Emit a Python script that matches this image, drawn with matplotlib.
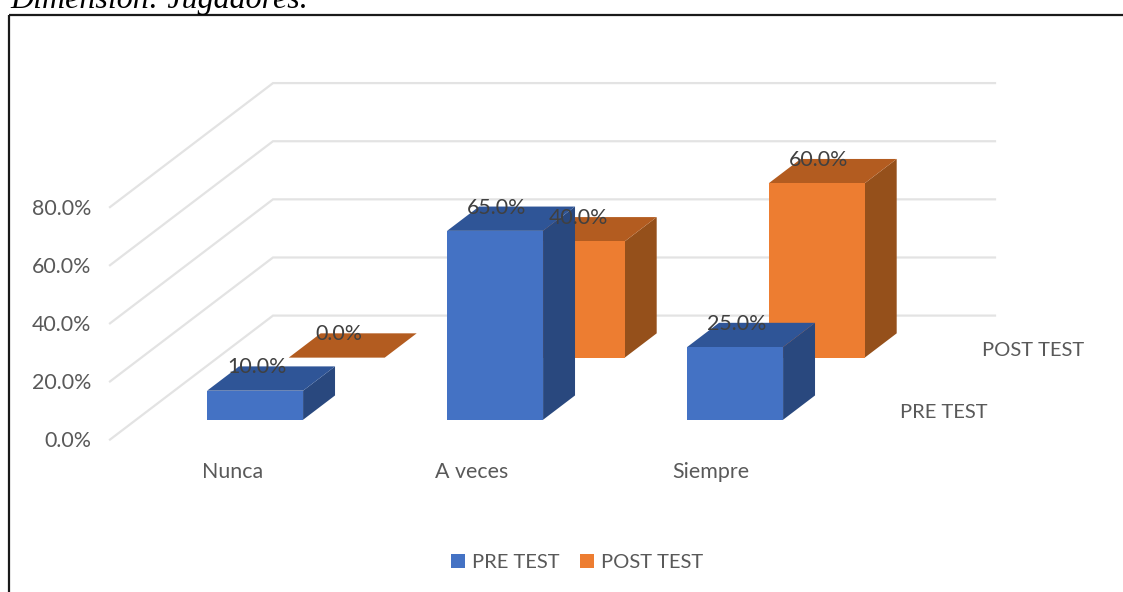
import matplotlib
matplotlib.use("Agg")
import matplotlib.pyplot as plt
from matplotlib.patches import Polygon, Patch, Rectangle

categories = ["Nunca", "A veces", "Siempre"]
pre_test = [10.0, 65.0, 25.0]
post_test = [0.0, 40.0, 60.0]
series_names = ["PRE TEST", "POST TEST"]
y_ticks = [0, 20, 40, 60, 80]
title = "Dimensión: Jugadores."

W, H = 1123, 592
# oblique projection, in pixels of the figure
X0, Y0 = 110.0, 439.6      # front-left floor corner
DX, DY = 163.0, -124.0     # floor depth vector
CAT_W = 240.0
PX_PER_UNIT = 232.5 / 80.0
BAR_W = 0.40               # share of a category
BAR_SHIFT = -1.0 / 240.0
ROW_D = 0.196              # share of the depth
ROW_START = [0.160, 0.661]
FLOOR_W = 722.0
NUM_SIZE = 15.4
CAT_SIZE = 15.4
SER_SIZE = 14.5


def proj(cat, depth, value):
    """cat in category units, depth 0..1, value in percent -> pixel."""
    return (X0 + cat * CAT_W + depth * DX,
            Y0 + depth * DY - value * PX_PER_UNIT)


fig = plt.figure(figsize=(W / 100, H / 100), dpi=100)
ax = fig.add_axes([0, 0, 1, 1])
ax.set_xlim(0, W)
ax.set_ylim(H, 0)
ax.axis("off")

# frame and clipped caption
ax.add_patch(Rectangle((8.5, 14.5), W + 20, H + 20, fill=False, ec="#1a1a1a", lw=1.6, zorder=1))
ax.text(10, 8, title, family="Liberation Serif", style="italic", fontsize=23,
        color="black", ha="left", va="baseline", zorder=1)

# gridlines
GRID = "#e3e3e3"
for t in y_ticks:
    a = proj(0, 0, t)
    b = proj(0, 1, t)
    c = (b[0] + FLOOR_W, b[1])
    ax.plot([a[0], b[0], c[0]], [a[1], b[1], c[1]], color=GRID, lw=1.6,
            solid_joinstyle="miter", zorder=2)
    ax.text(a[0] - 19, a[1] + 1.5, f"{t:.1f}%", family="Lato", fontsize=NUM_SIZE,
            color="#595959", ha="right", va="center", zorder=3)


def bar(cat_i, row, value, front, top, side, z):
    c0 = cat_i + 0.5 - BAR_W / 2 + BAR_SHIFT
    c1 = cat_i + 0.5 + BAR_W / 2 + BAR_SHIFT
    d0 = ROW_START[row]
    d1 = d0 + ROW_D
    ax.add_patch(Polygon([proj(c1, d0, 0), proj(c1, d1, 0), proj(c1, d1, value), proj(c1, d0, value)],
                         fc=side, ec="none", zorder=z))
    ax.add_patch(Polygon([proj(c0, d0, value), proj(c1, d0, value), proj(c1, d1, value), proj(c0, d1, value)],
                         fc=top, ec="none", zorder=z))
    if value > 0:
        ax.add_patch(Polygon([proj(c0, d0, 0), proj(c1, d0, 0), proj(c1, d0, value), proj(c0, d0, value)],
                             fc=front, ec="none", zorder=z))


BLUE = ("#4472C4", "#2F5597", "#29487E")
ORANGE = ("#ED7D31", "#B35C20", "#95501B")
for i, v in enumerate(post_test):
    bar(i, 1, v, *ORANGE, z=4 + i * 0.1)
for i, v in enumerate(pre_test):
    bar(i, 0, v, *BLUE, z=5 + i * 0.1)

# data labels
for row, vals in enumerate([pre_test, post_test]):
    for i, v in enumerate(vals):
        d = ROW_START[row] + ROW_D
        px, py = proj(i + 0.5, d, v)
        ax.text(px - 31, py + 1, f"{v:.1f}%", family="Lato", fontsize=NUM_SIZE,
                color="#404040", ha="center", va="center", zorder=7)

# category labels
for i, name in enumerate(categories):
    px, _ = proj(i + 0.5, 0, 0)
    ax.text(px + 3 - i, 472, name, family="Lato", fontsize=CAT_SIZE, color="#595959",
            ha="center", va="center", zorder=3)

# series (depth axis) labels
ax.text(944, 412.5, series_names[0], family="Lato", fontsize=SER_SIZE, color="#595959",
        ha="center", va="center", zorder=3)
ax.text(1033, 350.5, series_names[1], family="Lato", fontsize=SER_SIZE, color="#595959",
        ha="center", va="center", zorder=3)

# legend
handles = [Patch(fc=BLUE[0], ec="none", label=series_names[0]),
           Patch(fc=ORANGE[0], ec="none", label=series_names[1])]
ax.legend(handles=handles, ncol=2, loc="center", bbox_to_anchor=(577, 562.5),
          bbox_transform=ax.transData, frameon=False, prop={"family": "Lato", "size": SER_SIZE},
          labelcolor="#595959", handlelength=0.69, handleheight=0.69, handletextpad=0.35,
          columnspacing=1.0, borderpad=0)

fig.savefig("out.png", dpi=100, facecolor="white")
